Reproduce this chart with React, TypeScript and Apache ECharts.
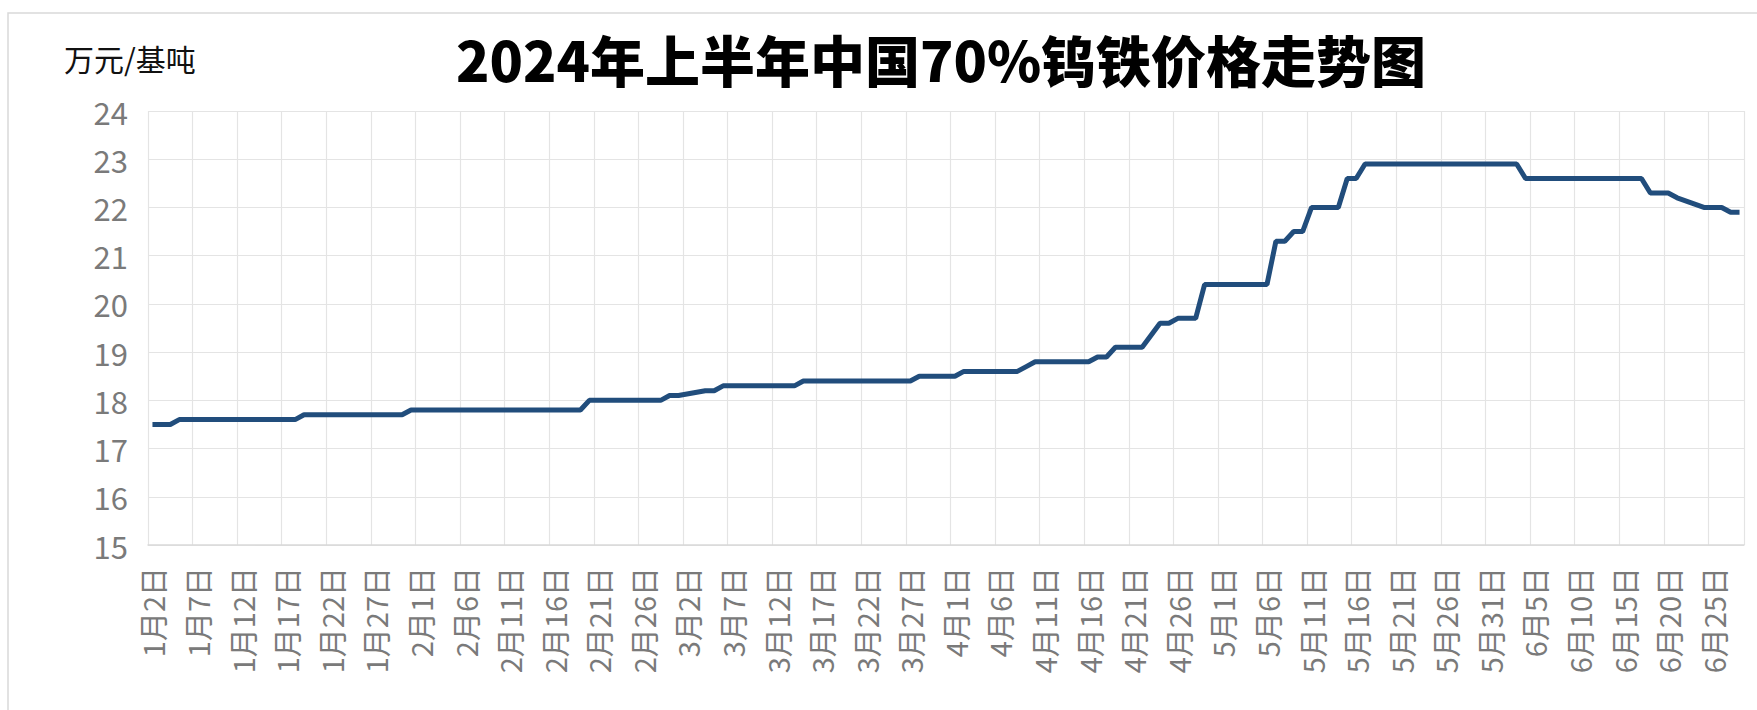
import React, { useEffect, useRef } from "react";
import * as echarts from "echarts";

// ---- data ----
const titleText = "2024年上半年中国70%钨铁价格走势图";
const unitText = "万元/基吨";
const monthLengths = [31, 29, 31, 30, 31, 30];
const firstDay = 2; // 1月2日
const lastDay = 28; // 6月28日

const janDays = [2, 3, 4, 5, 8, 9, 10, 11, 12, 15, 16, 17, 18, 19, 22, 23, 24, 25, 26, 29, 30, 31];
const janPrice = [17.5, 17.5, 17.5, 17.6, 17.6, 17.6, 17.6, 17.6, 17.6, 17.6, 17.6, 17.6, 17.6, 17.7, 17.7, 17.7, 17.7, 17.7, 17.7, 17.7, 17.7, 17.8];
const febDays = [1, 2, 4, 5, 6, 7, 8, 9, 18, 19, 20, 21, 22, 23, 26, 27, 28, 29];
const febPrice = [17.8, 17.8, 17.8, 17.8, 17.8, 17.8, 17.8, 17.8, 17.8, 17.8, 18.0, 18.0, 18.0, 18.0, 18.0, 18.0, 18.0, 18.1];
const marDays = [1, 4, 5, 6, 7, 8, 11, 12, 13, 14, 15, 18, 19, 20, 21, 22, 25, 26, 27, 28, 29];
const marPrice = [18.1, 18.2, 18.2, 18.3, 18.3, 18.3, 18.3, 18.3, 18.3, 18.3, 18.4, 18.4, 18.4, 18.4, 18.4, 18.4, 18.4, 18.4, 18.4, 18.5, 18.5];
const aprDays = [1, 2, 3, 7, 8, 9, 10, 11, 12, 15, 16, 17, 18, 19, 22, 23, 24, 25, 26, 28, 29, 30];
const aprPrice = [18.5, 18.6, 18.6, 18.6, 18.6, 18.7, 18.8, 18.8, 18.8, 18.8, 18.8, 18.9, 18.9, 19.1, 19.1, 19.35, 19.6, 19.6, 19.7, 19.7, 20.4, 20.4];
const mayDays = [6, 7, 8, 9, 10, 11, 13, 14, 15, 16, 17, 20, 21, 22, 23, 24, 27, 28, 29, 30, 31];
const mayPrice = [20.4, 21.3, 21.3, 21.5, 21.5, 22.0, 22.0, 22.0, 22.6, 22.6, 22.9, 22.9, 22.9, 22.9, 22.9, 22.9, 22.9, 22.9, 22.9, 22.9, 22.9];
const junDays = [3, 4, 5, 6, 7, 11, 12, 13, 14, 17, 18, 19, 20, 21, 24, 25, 26, 27, 28];
const junPrice = [22.9, 22.6, 22.6, 22.6, 22.6, 22.6, 22.6, 22.6, 22.6, 22.6, 22.3, 22.3, 22.3, 22.2, 22.0, 22.0, 22.0, 21.9, 21.9];

const monthDays = [janDays, febDays, marDays, aprDays, mayDays, junDays];
const monthPrices = [janPrice, febPrice, marPrice, aprPrice, mayPrice, junPrice];

const yMin = 15;
const yMax = 24;
const yStep = 1;

// ---- build categories (every calendar day) & series ----
const categories: string[] = [];
for (let m = 1; m <= 6; m++) {
  const start = m === 1 ? firstDay : 1;
  const end = m === 6 ? lastDay : monthLengths[m - 1];
  for (let d = start; d <= end; d++) categories.push(`${m}月${d}日`);
}
const priceMap = new Map<string, number>();
monthDays.forEach((days, i) => {
  days.forEach((d, j) => priceMap.set(`${i + 1}月${d}日`, monthPrices[i][j]));
});
const seriesData = categories.map((c) => (priceMap.has(c) ? priceMap.get(c)! : null));

const FONT = "'Noto Sans CJK SC', 'Noto Sans', sans-serif";

export default function App() {
  const ref = useRef<HTMLDivElement>(null);
  useEffect(() => {
    document.body.style.margin = "0";
    const chart = echarts.init(ref.current!, null, { renderer: "svg" });
    chart.setOption({
      animation: false,
      backgroundColor: "#ffffff",
      textStyle: { fontFamily: FONT },
      graphic: [
        {
          type: "rect",
          silent: true,
          shape: { x: 8, y: 13, width: 1800, height: 800 },
          style: { fill: "none", stroke: "#d9d9d9", lineWidth: 1.5 },
        },
        {
          type: "text",
          x: 941,
          y: 58,
          style: {
            text: titleText,
            fontSize: 55,
            fontWeight: 900,
            fontFamily: FONT,
            fill: "#000000",
            textAlign: "center",
            textVerticalAlign: "middle",
          },
        },
        {
          type: "text",
          x: 64,
          y: 58,
          style: {
            text: unitText,
            fontSize: 30,
            fontFamily: FONT,
            fill: "#111111",
            textAlign: "left",
            textVerticalAlign: "middle",
          },
        },
      ],
      grid: { left: 148, right: 13, top: 111, bottom: 165, containLabel: false },
      xAxis: {
        type: "category",
        data: categories,
        boundaryGap: true,
        axisLine: { show: true, lineStyle: { color: "#d9d9d9", width: 1.5 } },
        axisTick: { show: false, interval: 4 },
        axisLabel: {
          interval: 4,
          rotate: 90,
          margin: 22,
          fontSize: 29,
          color: "#7a7a7a",
          fontFamily: FONT,
        },
        splitLine: { show: true, interval: 4, lineStyle: { color: "#e4e4e4", width: 1.2 } },
      },
      yAxis: {
        type: "value",
        min: yMin,
        max: yMax,
        interval: yStep,
        axisLine: { show: false },
        axisTick: { show: false },
        axisLabel: { margin: 20, fontSize: 31, color: "#7a7a7a", fontFamily: FONT },
        splitLine: { show: true, lineStyle: { color: "#e4e4e4", width: 1.2 } },
      },
      series: [
        {
          type: "line",
          data: seriesData,
          connectNulls: true,
          showSymbol: false,
          symbol: "none",
          lineStyle: { color: "#214d7c", width: 5 },
          itemStyle: { color: "#214d7c" },
        },
      ],
    });
    return () => chart.dispose();
  }, []);
  return <div ref={ref} style={{ width: 1757, height: 710 }} />;
}
